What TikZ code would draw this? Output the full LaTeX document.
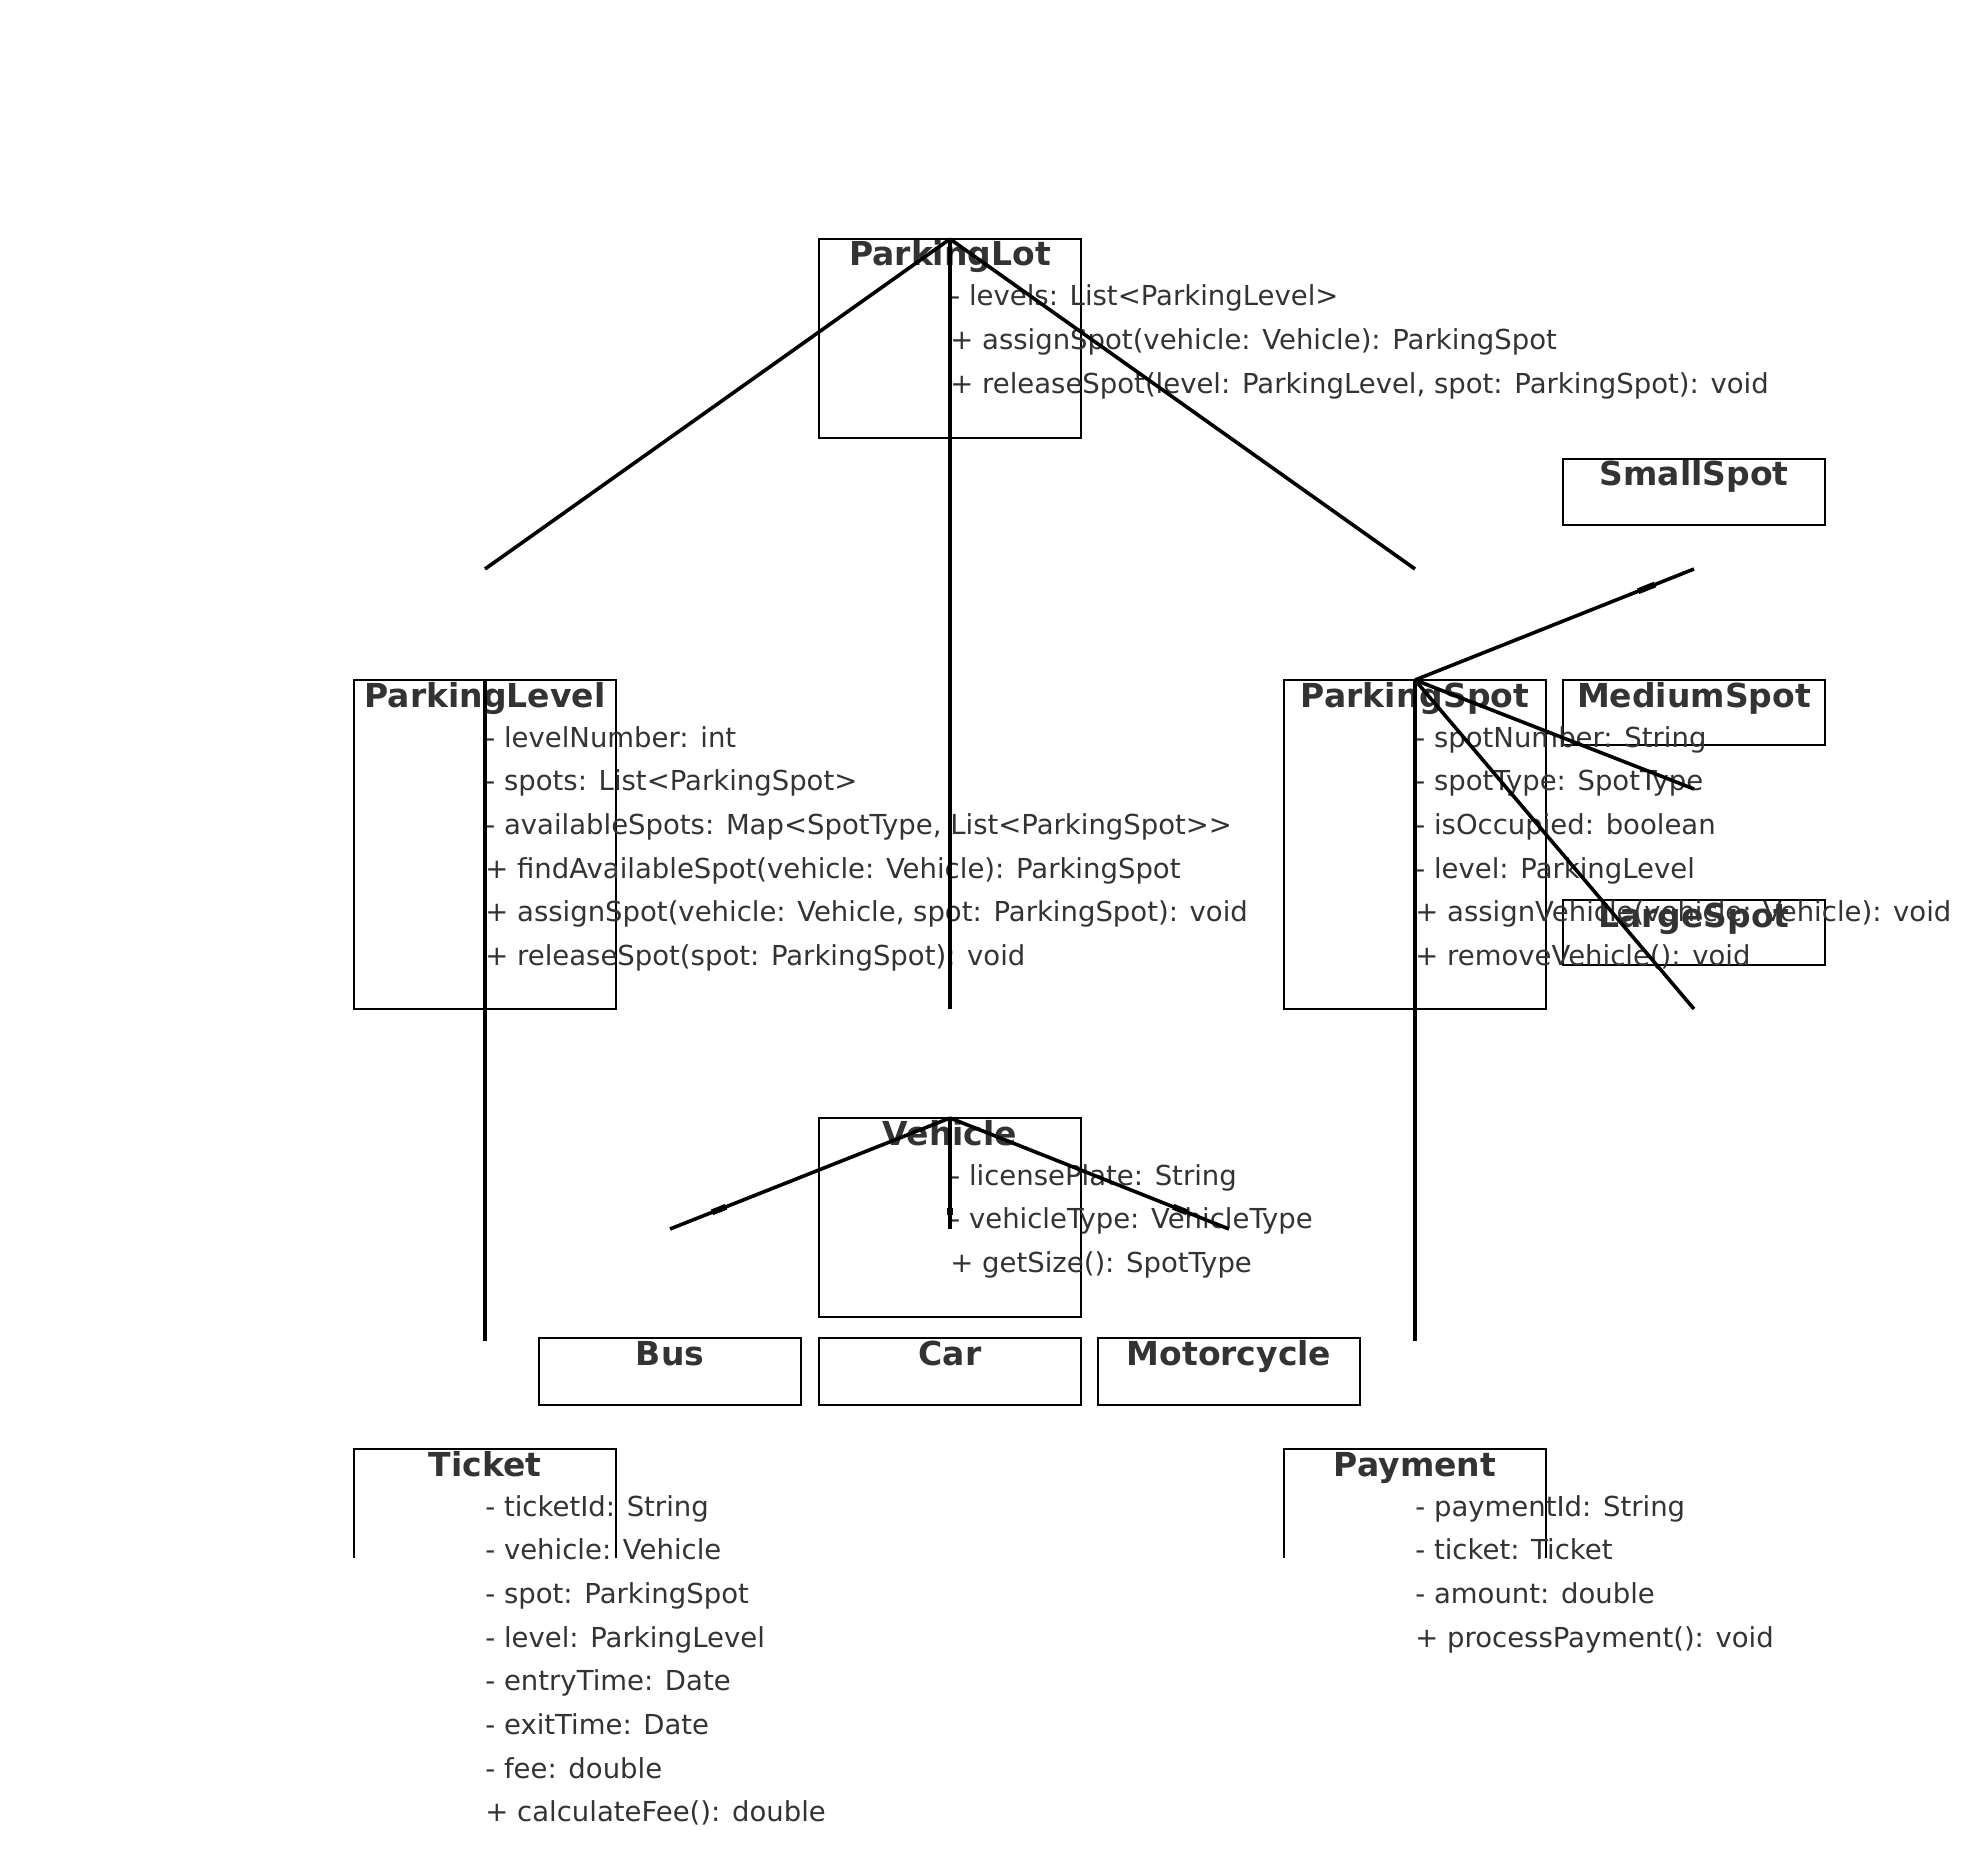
\documentclass[tikz,border=0pt]{standalone}
\usepackage{fontspec}
\setmainfont{DejaVu Sans}
\usetikzlibrary{calc}
\definecolor{txt}{HTML}{333333}
\begin{document}
\begin{tikzpicture}[x=0.5pt,y=-0.5pt,
  box/.style={draw=black, line width=1.4pt, minimum width=131pt, inner sep=0pt, outer sep=0pt},
  frame/.style={draw=black, line width=1.4pt},
  ttl/.style={anchor=base, inner sep=0pt, font=\fontsize{16.5}{19}\selectfont\bfseries, text=txt},
  attr/.style={anchor=base west, inner sep=0pt, font=\fontsize{13.75}{16}\selectfont, text=txt},
  link/.style={draw=black, line width=1.8pt},
  tickmark/.style={draw=black, line width=3pt}]
\fill[white] (0,0) rectangle (1970,1850);
\useasboundingbox (0,0) rectangle (1970,1850);

% class boxes
\node[box, minimum height=99.5pt] (lot) at (950,338.5) {};
\node[box, minimum height=33pt] (small) at (1694,492) {};
\node[box, minimum height=164.5pt] (level) at (485,844.5) {};
\node[box, minimum height=164.5pt] (spot) at (1415,844.5) {};
\node[box, minimum height=32.5pt] (medium) at (1694,712.5) {};
\node[box, minimum height=32.5pt] (large) at (1694,932.5) {};
\node[box, minimum height=99.5pt] (vehicle) at (950,1217.5) {};
\node[box, minimum height=33.5pt] (bus) at (670,1371.5) {};
\node[box, minimum height=33.5pt] (car) at (950,1371.5) {};
\node[box, minimum height=33.5pt] (moto) at (1229,1371.5) {};
\node[box, draw=none, minimum height=54.5pt] (ticket) at (485,1503.5) {};
\node[box, draw=none, minimum height=54.5pt] (payment) at (1415,1503.5) {};
\draw[frame] (ticket.south west) -- (ticket.north west) -- (ticket.north east) -- (ticket.south east);
\draw[frame] (payment.south west) -- (payment.north west) -- (payment.north east) -- (payment.south east);

% titles
\node[ttl] (lotT) at (950,266) {ParkingLot};
\node[ttl] (smallT) at (1694,486) {SmallSpot};
\node[ttl] (levelT) at (485,707) {ParkingLevel};
\node[ttl] (spotT) at (1415,707) {ParkingSpot};
\node[ttl] (mediumT) at (1694,707) {MediumSpot};
\node[ttl] (largeT) at (1694,927) {LargeSpot};
\node[ttl] (vehicleT) at (950,1145) {Vehicle};
\node[ttl] (busT) at (670,1365) {Bus};
\node[ttl] (carT) at (950,1365) {Car};
\node[ttl] (motoT) at (1229,1365) {Motorcycle};
\node[ttl] (ticketT) at (485,1476) {Ticket};
\node[ttl] (paymentT) at (1415,1476) {Payment};

% members
\foreach \t [count=\i from 0] in {{- levels: List<ParkingLevel>},{+ assignSpot(vehicle: Vehicle): ParkingSpot},{+ releaseSpot(level: ParkingLevel, spot: ParkingSpot): void}}
  \node[attr] (lotA\i) at (950,306+43.7*\i) {\t};
\foreach \t [count=\i from 0] in {{- levelNumber: int},{- spots: List<ParkingSpot>},{- availableSpots: Map<SpotType, List<ParkingSpot>{}>},{+ findAvailableSpot(vehicle: Vehicle): ParkingSpot},{+ assignSpot(vehicle: Vehicle, spot: ParkingSpot): void},{+ releaseSpot(spot: ParkingSpot): void}}
  \node[attr] (levelA\i) at (485,747+43.7*\i) {\t};
\foreach \t [count=\i from 0] in {{- spotNumber: String},{- spotType: SpotType},{- isOccupied: boolean},{- level: ParkingLevel},{+ assignVehicle(vehicle: Vehicle): void},{+ removeVehicle(): void}}
  \node[attr] (spotA\i) at (1415,747+43.7*\i) {\t};
\foreach \t [count=\i from 0] in {{- licensePlate: String},{- vehicleType: VehicleType},{+ getSize(): SpotType}}
  \node[attr] (vehicleA\i) at (950,1185+43.7*\i) {\t};
\foreach \t [count=\i from 0] in {{- ticketId: String},{- vehicle: Vehicle},{- spot: ParkingSpot},{- level: ParkingLevel},{- entryTime: Date},{- exitTime: Date},{- fee: double},{+ calculateFee(): double}}
  \node[attr] (ticketA\i) at (485,1516+43.7*\i) {\t};
\foreach \t [count=\i from 0] in {{- paymentId: String},{- ticket: Ticket},{- amount: double},{+ processPayment(): void}}
  \node[attr] (paymentA\i) at (1415,1516+43.7*\i) {\t};

% connector free ends
\coordinate (lvlEnd) at (485,569);
\coordinate (lotEnd) at (950,1009);
\coordinate (spotEnd) at (1415,569);
\coordinate (levelDown) at (485,1341);
\coordinate (spotDown) at (1415,1341);
\coordinate (smallEnd) at (1694,569);
\coordinate (medEnd) at (1694,789);
\coordinate (largeEnd) at (1694,1009);
\coordinate (busEnd) at (670,1229);
\coordinate (carEnd) at (950,1229);
\coordinate (motoEnd) at (1229,1229);

% connectors
\draw[link] (lot.north) -- (lvlEnd);
\draw[link] (lot.north) -- (lotEnd);
\draw[link] (lot.north) -- (spotEnd);
\draw[link] (level.north) -- (levelDown);
\draw[link] (spot.north) -- (spotDown);
\draw[link] (spot.north) -- (smallEnd);
\draw[link] (spot.north) -- (medEnd);
\draw[link] (spot.north) -- (largeEnd);
\draw[link] (vehicle.north) -- (busEnd);
\draw[link] (vehicle.north) -- (carEnd);
\draw[link] (vehicle.north) -- (motoEnd);

% collapsed arrow heads
\draw[tickmark] ($(spot.north)!0.8!(smallEnd)$) -- ($(spot.north)!0.86!(smallEnd)$);
\draw[tickmark] ($(vehicle.north)!0.8!(busEnd)$) -- ($(vehicle.north)!0.85!(busEnd)$);
\draw[tickmark] ($(vehicle.north)!0.81!(carEnd)$) -- ($(vehicle.north)!0.87!(carEnd)$);
\draw[tickmark] ($(vehicle.north)!0.8!(motoEnd)$) -- ($(vehicle.north)!0.85!(motoEnd)$);
\end{tikzpicture}
\end{document}
